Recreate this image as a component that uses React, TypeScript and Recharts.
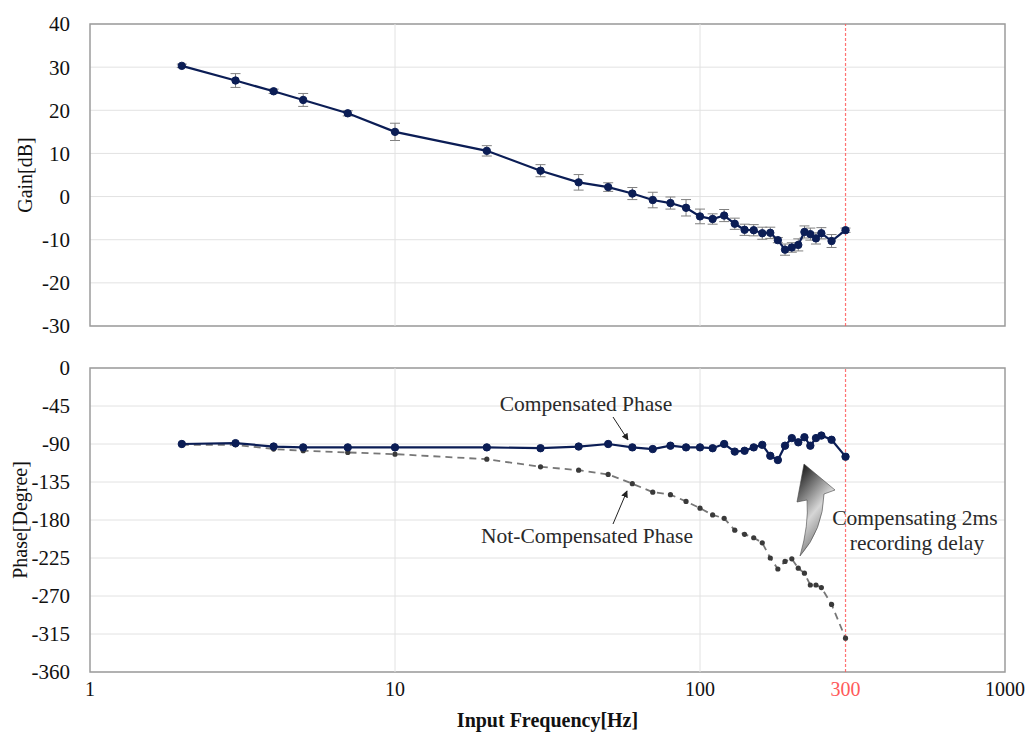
import React from 'react';
import { LineChart, Line, XAxis, YAxis, CartesianGrid, ReferenceLine, ReferenceArea, ErrorBar, Label } from 'recharts';

const FONT = '"Liberation Serif", "Times New Roman", serif';
const TEXT = '#111';
const NAVY = '#0b1d55';
const GRID = '#e2e2e2';
const FRAME = '#9c9c9c';
const RED = '#ff5a5a';

// input frequency [Hz]
const FREQS = [2, 3, 4, 5, 7, 10, 20, 30, 40, 50, 60, 70, 80, 90, 100, 110, 120, 130, 140, 150, 160, 170, 180, 190, 200, 210, 220, 230, 240, 250, 270, 300];

// gain [dB] and its error
const GAIN = [30.3, 26.9, 24.4, 22.4, 19.3, 15.0, 10.6, 6.0, 3.3, 2.2, 0.7, -0.8, -1.5, -2.6, -4.6, -5.2, -4.4, -6.3, -7.7, -7.8, -8.5, -8.4, -10.1, -12.3, -11.8, -11.2, -8.2, -8.7, -9.7, -8.5, -10.3, -7.8];
const GAIN_ERR = [0.4, 1.6, 0.5, 1.5, 0.6, 2.0, 1.2, 1.4, 1.8, 1.0, 1.4, 1.8, 1.4, 1.9, 1.7, 1.2, 1.4, 1.3, 1.3, 1.3, 1.4, 1.3, 0.6, 1.3, 1.1, 1.4, 1.4, 1.4, 1.3, 1.3, 1.5, 0.5];

// phase [degree]
const COMP_PHASE = [-90, -89, -93, -94, -94, -94, -94, -95, -93, -90, -94, -96, -92, -94, -94, -95, -90, -99, -98, -94, -91, -104, -109, -92, -83, -88, -82, -92, -83, -80, -85, -105];
const RAW_PHASE = [-91, -91, -96, -98, -100, -102, -108, -117, -121, -126, -137, -147, -150, -158, -166, -174, -178, -192, -197, -201, -207, -225, -238, -229, -226, -237, -243, -257, -257, -260, -280, -320];

const X_TICKS = [1, 10, 100, 300, 1000];
const GAIN_TICKS = [-30, -20, -10, 0, 10, 20, 30, 40];
const PHASE_TICKS = [-360, -315, -270, -225, -180, -135, -90, -45, 0];

const gainData = FREQS.map((f, i) => ({ freq: f, gain: GAIN[i], err: GAIN_ERR[i] }));
const phaseData = FREQS.map((f, i) => ({ freq: f, comp: COMP_PHASE[i], raw: RAW_PHASE[i] }));

const tickStyle = { fontSize: 21, fontFamily: FONT, fill: TEXT };

const FreqTick = (props: any) => {
  const { x, y, payload } = props;
  return (
    <text x={x} y={y} dy={14} textAnchor="middle" fontSize={20} fontFamily={FONT}
      fill={payload.value === 300 ? RED : TEXT}>
      {payload.value}
    </text>
  );
};

const yTitle = (title: string, cx: number) => ({ viewBox }: any) => {
  const cy = viewBox.y + viewBox.height / 2;
  return (
    <text x={cx} y={cy} transform={`rotate(-90 ${cx} ${cy})`} textAnchor="middle"
      dominantBaseline="central" fontSize={20} fontFamily={FONT} fill={TEXT}>
      {title}
    </text>
  );
};

const App: React.FC = () => {
  return (
    <div style={{ position: 'absolute', left: 0, top: 0, width: 1030, height: 735, background: '#fff' }}>
      <LineChart width={1030} height={346} data={gainData} margin={{ top: 24, right: 25, bottom: 20, left: 0 }}>
        <CartesianGrid vertical={false} stroke={GRID} />
        <XAxis dataKey="freq" type="number" scale="log" domain={[1, 1000]} ticks={X_TICKS} allowDataOverflow hide />
        <YAxis type="number" domain={[-30, 40]} ticks={GAIN_TICKS} width={90} axisLine={false} tickLine={false}
          tickMargin={14} tick={tickStyle} interval={0}>
          <Label content={yTitle('Gain[dB]', 25)} />
        </YAxis>
        <ReferenceLine x={10} stroke={GRID} />
        <ReferenceLine x={100} stroke={GRID} />
        <ReferenceArea x1={1} x2={1000} y1={-30} y2={40} fill="none" stroke={FRAME} strokeWidth={1.5} />
        <Line dataKey="gain" stroke={NAVY} strokeWidth={2.2}
          dot={{ r: 3.7, fill: NAVY, stroke: NAVY, strokeWidth: 1 }} isAnimationActive={false}>
          <ErrorBar dataKey="err" direction="y" width={5} stroke="#808080" strokeWidth={1} isAnimationActive={false} />
        </Line>
        <ReferenceLine x={300} stroke={RED} strokeOpacity={0.85} strokeDasharray="3 2" strokeWidth={1.2} />
      </LineChart>
      <LineChart width={1030} height={389} data={phaseData} margin={{ top: 22, right: 25, bottom: 0, left: 0 }}>
        <CartesianGrid vertical={false} stroke={GRID} />
        <XAxis dataKey="freq" type="number" scale="log" domain={[1, 1000]} ticks={X_TICKS} allowDataOverflow
          height={63} axisLine={false} tickLine={false} tickMargin={4} tick={<FreqTick />} interval={0}>
          <Label content={({ viewBox }: any) => (
            <text x={viewBox.x + viewBox.width / 2} y={viewBox.y + 48} textAnchor="middle" dominantBaseline="central"
              fontSize={20} fontWeight="bold" fontFamily={FONT} fill={TEXT}>
              Input Frequency[Hz]
            </text>
          )} />
        </XAxis>
        <YAxis type="number" domain={[-360, 0]} ticks={PHASE_TICKS} width={90} axisLine={false} tickLine={false}
          tickMargin={14} tick={tickStyle} interval={0}>
          <Label content={yTitle('Phase[Degree]', 20)} />
        </YAxis>
        <ReferenceLine x={10} stroke={GRID} />
        <ReferenceLine x={100} stroke={GRID} />
        <ReferenceArea x1={1} x2={1000} y1={-360} y2={0} fill="none" stroke={FRAME} strokeWidth={1.5} />
        <Line dataKey="raw" stroke="#777" strokeWidth={1.8} strokeDasharray="7 5"
          dot={{ r: 2.6, fill: '#3a3a3a', stroke: 'none' }} isAnimationActive={false} />
        <Line dataKey="comp" stroke={NAVY} strokeWidth={2.2}
          dot={{ r: 3.7, fill: NAVY, stroke: NAVY, strokeWidth: 1 }} isAnimationActive={false} />
        <ReferenceLine x={300} stroke={RED} strokeOpacity={0.85} strokeDasharray="3 2" strokeWidth={1.2} />
      </LineChart>

      {/* annotations */}
      <svg width={1030} height={735} style={{ position: 'absolute', left: 0, top: 0, pointerEvents: 'none' }}>
        <defs>
          <marker id="tip" viewBox="0 0 10 10" refX="9" refY="5" markerWidth="7" markerHeight="7" orient="auto">
            <path d="M0,0 L10,5 L0,10 z" fill="#222" />
          </marker>
          <linearGradient id="bigArrow" x1="0" y1="0" x2="0.5" y2="1">
            <stop offset="0" stopColor="#000" />
            <stop offset="0.6" stopColor="#d6d6d6" />
            <stop offset="1" stopColor="#6a6a6a" />
          </linearGradient>
        </defs>
        <g fontFamily={FONT} fontSize={21.5} fill="#2a2a2a" textAnchor="middle" dominantBaseline="central">
          <text x={586} y={404}>Compensated Phase</text>
          <text x={587} y={536}>Not-Compensated Phase</text>
          <text x={915} y={518}>Compensating 2ms</text>
          <text x={917} y={543}>recording delay</text>
        </g>
        <line x1={613} y1={417} x2={628} y2={440} stroke="#222" strokeWidth={1} markerEnd="url(#tip)" />
        <line x1={613} y1={524} x2={627} y2={491} stroke="#222" strokeWidth={1} markerEnd="url(#tip)" />
        <path d="M 804 464 L 835 490 L 824 494 Q 823 530 800 556 Q 809 525 807 500 L 797 502 Z"
          fill="url(#bigArrow)" stroke="#444" strokeWidth={0.6} />
      </svg>
    </div>
  );
};

export default App;
